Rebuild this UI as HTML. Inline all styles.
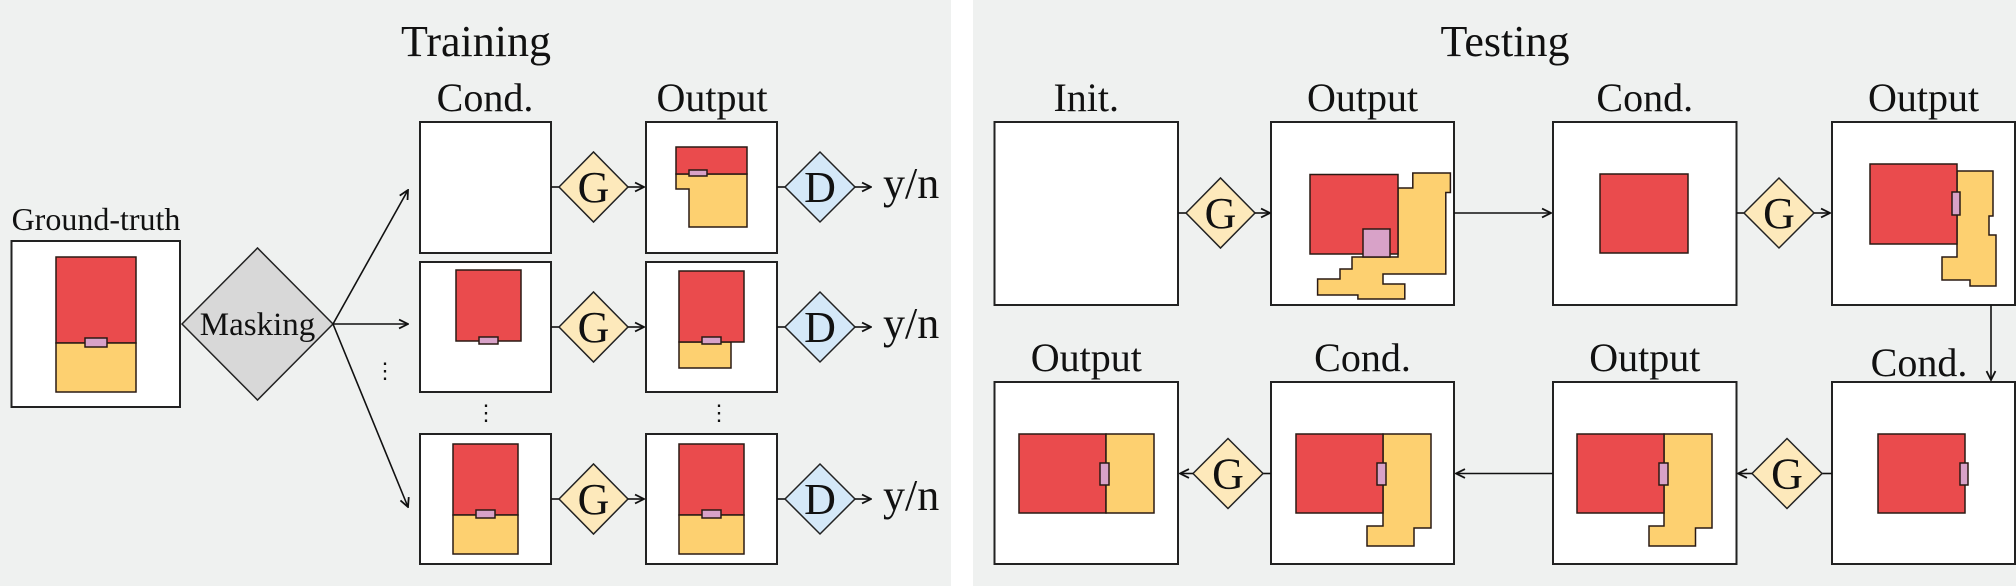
<!DOCTYPE html>
<html><head><meta charset="utf-8"><style>
html,body{margin:0;padding:0;background:#fff;}
svg{display:block;}
text{font-family:"Liberation Serif",serif;fill:#111;}
</style></head><body>
<svg width="2016" height="586" viewBox="0 0 2016 586">
<defs>
<marker id="ah" viewBox="0 0 10 10" refX="9" refY="5" markerWidth="7" markerHeight="7" orient="auto"><path d="M1,1 L9,5 L1,9" fill="none" stroke="#111" stroke-width="1.6"/></marker>
</defs>
<rect x="0" y="0" width="951" height="586" fill="#eff1f0"/>
<rect x="973" y="0" width="1043" height="586" fill="#eff1f0"/>

<g id="train"></g>
<g id="test"></g>
</svg>
<script>
const NS='http://www.w3.org/2000/svg';
const RED='#ea4b4d',YEL='#fdd070',PINK='#d8a2c8',ST='#2a1a14';
function mk(parent,tag,attrs,name,txt){const e=document.createElementNS(NS,tag);for(const k in attrs)e.setAttribute(k,attrs[k]);


if(txt!==undefined)e.textContent=txt;parent.appendChild(e);return e;}
function box(p,x,y,w,h,n){return mk(p,'rect',{x,y,width:w,height:h,fill:'#fff',stroke:'#222','stroke-width':2},n);}
function r(p,x1,y1,x2,y2,c,n){return mk(p,'rect',{x:x1,y:y1,width:x2-x1,height:y2-y1,fill:c,stroke:ST,'stroke-width':1.5},n);}
function poly(p,pts,c,n){return mk(p,'polygon',{points:pts.map(q=>q.join(',')).join(' '),fill:c,stroke:ST,'stroke-width':1.5},n);}
function txt(p,x,y,s,t,n){return mk(p,'text',{x,y,'font-size':s,'text-anchor':'middle'},n,t);}
function line(p,x1,y1,x2,y2,arrow,n){const a={x1,y1,x2,y2,stroke:'#111','stroke-width':1.6};if(arrow)a['marker-end']='url(#ah)';return mk(p,'line',a,n);}
function diamond(p,x1,x2,cy,h,fill,label,fs,n){const cx=(x1+x2)/2;mk(p,'polygon',{points:`${x1},${cy} ${cx},${cy-h} ${x2},${cy} ${cx},${cy+h}`,fill,stroke:'#222','stroke-width':1.5},n);
mk(p,'text',{x:cx,y:cy+fs*0.34,'font-size':fs,'text-anchor':'middle'},n+'-label',label);}

const T=document.getElementById('train');
txt(T,476,56,44,'Training','training-title');
txt(T,96,230,32,'Ground-truth','ground-truth-label');
box(T,11.5,241,168.5,166,'ground-truth-box');
r(T,56,257,136,343,RED,'gt-red-room');r(T,56,343,136,392,YEL,'gt-yellow-room');r(T,85,338,107,347,PINK,'gt-door');
diamond(T,182,333,324,76,'#d8d8d8','Masking',33,'masking-node');
line(T,333,324,408,190,true,'arrow-to-row1');line(T,333,324,408,324,true,'arrow-to-row2');line(T,333,324,408,507,true,'arrow-to-row3');
txt(T,385,378,22,'⋮','masking-dots');
txt(T,485,111,40,'Cond.','train-cond-header');txt(T,712,111,40,'Output','train-output-header');
const rows=[[122,253,187],[262,392,327],[434,564,499]];
rows.forEach((rw,i)=>{const [y1,y2,cy]=rw;
box(T,420,y1,131,y2-y1,'train-cond-box-'+(i+1));box(T,646,y1,131,y2-y1,'train-output-box-'+(i+1));
line(T,551,cy,562,cy,false,'line');diamond(T,559,628,cy,35,'#fde9bb','G',44,'generator-'+(i+1));line(T,628,cy,644,cy,true,'arrow-g-out');
line(T,777,cy,787,cy,false,'line');diamond(T,785,855,cy,35,'#d4e8f8','D',44,'discriminator-'+(i+1));line(T,855,cy,871,cy,true,'arrow-d-out');
mk(T,'text',{x:883,y:cy+11,'font-size':44},'real-fake-label-'+(i+1),'y/n');});
txt(T,486,420,22,'⋮','cond-dots');txt(T,719,420,22,'⋮','output-dots');
// row1 output
poly(T,[[676,174],[747,174],[747,227],[689,227],[689,189],[676,189]],YEL,'r1-yellow');r(T,676,147,747,174,RED,'r1-red');r(T,689,170,707,176,PINK,'r1-door');
// row2
r(T,456,270,521,341,RED,'r2-cond-red');r(T,479,337,498,344,PINK,'r2-cond-door');
r(T,679,342,731,368,YEL,'r2-yellow');r(T,679,271,744,342,RED,'r2-red');r(T,702,337,721,344,PINK,'r2-door');
// row3
r(T,453,444,518,515,RED,'r3-cond-red');r(T,453,515,518,554,YEL,'r3-cond-yellow');r(T,476,510,495,518,PINK,'r3-cond-door');
r(T,679,444,744,515,RED,'r3-red');r(T,679,515,744,554,YEL,'r3-yellow');r(T,702,510,721,518,PINK,'r3-door');

const S=document.getElementById('test');
txt(S,1505,56,44,'Testing','testing-title');
const cols=[[994.5,1178],[1271,1454],[1553,1736.5],[1832,2015]];
['Init.','Output','Cond.','Output'].forEach((h,i)=>{txt(S,(cols[i][0]+cols[i][1])/2,111,40,h,'test-top-header-'+(i+1));box(S,cols[i][0],122,cols[i][1]-cols[i][0],183,'test-top-box-'+(i+1));});
['Output','Cond.','Output'].forEach((h,i)=>{txt(S,(cols[i][0]+cols[i][1])/2,371,40,h,'test-bottom-header-'+(i+1));});
txt(S,1919,376,40,'Cond.','test-bottom-header-4');
cols.forEach((c,i)=>box(S,c[0],382,c[1]-c[0],182,'test-bottom-box-'+(i+1)));
// top arrows
line(S,1178,213,1189,213,false,'line');diamond(S,1186,1255,213,35,'#fde9bb','G',44,'test-generator-1');line(S,1255,213,1270,213,true,'arrow');
line(S,1454,213,1551,213,true,'arrow-output-to-cond');
line(S,1736.5,213,1747,213,false,'line');diamond(S,1744,1814,213,35,'#fde9bb','G',44,'test-generator-2');line(S,1814,213,1830,213,true,'arrow');
line(S,1991,305,1991,380,true,'arrow-down');
line(S,1832,473.5,1819,473.5,false,'line');diamond(S,1752,1822,473.5,35,'#fde9bb','G',44,'test-generator-3');line(S,1752,473.5,1738,473.5,true,'arrow');
line(S,1553,473.5,1456,473.5,true,'arrow-output-to-cond-2');
line(S,1271,473.5,1260,473.5,false,'line');diamond(S,1193,1263,473.5,35,'#fde9bb','G',44,'test-generator-4');line(S,1193,473.5,1180,473.5,true,'arrow');
// top box2
poly(S,[[1412.8,173],[1450.4,173],[1450.4,192.5],[1445.8,192.5],[1445.8,274],[1383,274],[1383,284],[1404.8,284],[1404.8,299],[1357.9,299],[1357.9,295],[1317.6,295],[1317.6,279],[1340,279],[1340,269],[1352,269],[1352,257],[1398,257],[1398,188],[1412.8,188]],YEL,'t2-yellow');
r(S,1310,174.5,1398,254,RED,'t2-red');r(S,1363,229,1390,257,PINK,'t2-door');
r(S,1600,174,1688,253,RED,'t3-red');
poly(S,[[1957,171],[1993,171],[1993,216],[1989,216],[1989,235],[1996,235],[1996,286],[1970,286],[1970,280],[1942,280],[1942,257],[1957,257]],YEL,'t4-yellow');
r(S,1870,164,1957,244,RED,'t4-red');r(S,1952,192,1960,215,PINK,'t4-door');
// bottom
r(S,1878,434,1965,513,RED,'b4-red');r(S,1960,463,1968,485,PINK,'b4-door');
poly(S,[[1664,434],[1712,434],[1712,528],[1695.5,528],[1695.5,546],[1649,546],[1649,526],[1664,526]],YEL,'b3-yellow');
r(S,1577,434,1664,513,RED,'b3-red');r(S,1659,463,1668,485,PINK,'b3-door');
poly(S,[[1383,434],[1431,434],[1431,528],[1414,528],[1414,546],[1367,546],[1367,526],[1383,526]],YEL,'b2-yellow');
r(S,1296,434,1383,513,RED,'b2-red');r(S,1377,463,1386,485,PINK,'b2-door');
r(S,1019,434,1106,513,RED,'b1-red');r(S,1106,434,1154,513,YEL,'b1-yellow');r(S,1100,463,1109,485,PINK,'b1-door');
</script>
</body></html>
